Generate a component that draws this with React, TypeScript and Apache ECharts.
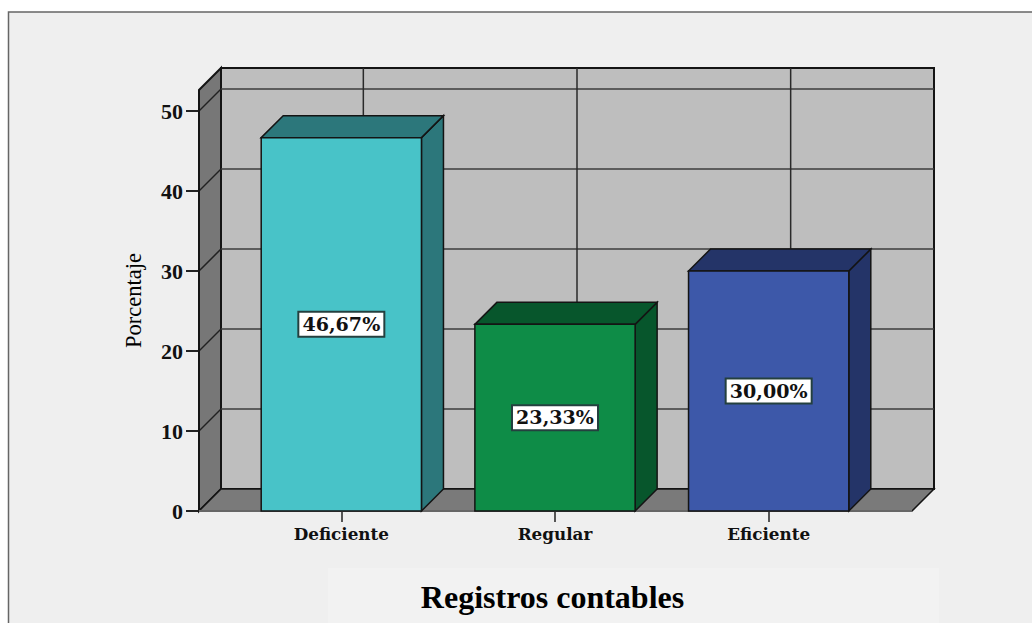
import React, { useEffect, useRef } from "react";
import * as echarts from "echarts";

const categories = ["Deficiente", "Regular", "Eficiente"];
const percentages = [46.67, 23.33, 30.0];
const barLabels = ["46,67%", "23,33%", "30,00%"];
const yTicks = [0, 10, 20, 30, 40, 50];
const yMax = 52.625;

const frontColors = ["#48c3c8", "#0e8c47", "#3d58a9"];
const sideColors = ["#2c777b", "#07562c", "#243468"];

const DEPTH = 22;
const WALL_LEFT_PAD = 35.5;
const WALL_RIGHT_PAD = 36.5;
const EDGE = "#141414";

type Pt = [number, number];

const poly = (points: Pt[], fill: string, stroke: string, lineWidth = 1.5) => ({
  type: "polygon",
  shape: { points },
  style: { fill, stroke, lineWidth, lineJoin: "miter" },
});

const seg = (a: Pt, b: Pt, stroke: string, lineWidth = 1.5) => ({
  type: "line",
  shape: { x1: a[0], y1: a[1], x2: b[0], y2: b[1] },
  style: { stroke, lineWidth },
});

// Back wall, side wall, floor and their rulings, all placed from the axis scales.
function renderRoom(params: any, api: any) {
  const grid = params.coordSys;
  const left = grid.x - WALL_LEFT_PAD;
  const right = grid.x + grid.width + WALL_RIGHT_PAD;
  const top = grid.y;
  const bottom = grid.y + grid.height;
  const d = DEPTH;

  const children: any[] = [
    poly([[left + d, top - d], [right + d, top - d], [right + d, bottom - d], [left + d, bottom - d]], "#bebebe", EDGE, 2),
    poly([[left, top], [left + d, top - d], [left + d, bottom - d], [left, bottom]], "#777777", EDGE, 2),
    poly([[left, bottom], [left + d, bottom - d], [right + d, bottom - d], [right, bottom]], "#7a7a7a", EDGE, 1.5),
  ];

  yTicks.slice(1).forEach((v) => {
    const y = api.coord([0, v])[1];
    children.push(seg([left + d, y - d], [right + d, y - d], "#3c3c3c"));
    children.push(seg([left, y], [left + d, y - d], "#222222"));
  });

  categories.forEach((_, i) => {
    const x = api.coord([i, 0])[0];
    children.push(seg([x + d, top - d], [x + d, bottom - d], "#2a2a2a"));
  });

  children.push(seg([left, top], [left, bottom], EDGE, 2));
  children.push(seg([left, bottom], [right, bottom], "#666666", 2));

  return { type: "group", children };
}

// One prism per category: front face, roof, right side and a boxed value label.
function renderBar(params: any, api: any) {
  const i = api.value(0);
  const value = api.value(1);
  const [cx, yTop] = api.coord([i, value]);
  const yBase = api.coord([i, 0])[1];
  const w = api.size([1, 0])[0] * 0.75;
  const x0 = cx - w / 2;
  const x1 = cx + w / 2;
  const d = DEPTH;
  const midY = (yTop + yBase) / 2;

  return {
    type: "group",
    children: [
      poly([[x1, yTop], [x1 + d, yTop - d], [x1 + d, yBase - d], [x1, yBase]], sideColors[i], EDGE),
      poly([[x0, yTop], [x0 + d, yTop - d], [x1 + d, yTop - d], [x1, yTop]], sideColors[i], EDGE),
      poly([[x0, yTop], [x1, yTop], [x1, yBase], [x0, yBase]], frontColors[i], EDGE),
      {
        type: "rect",
        shape: { x: cx - 43, y: midY - 12.5, width: 86, height: 25 },
        style: { fill: "#ffffff", stroke: "#24403f", lineWidth: 2 },
      },
      {
        type: "text",
        x: cx,
        y: midY + 0.5,
        scaleX: 1.06,
        style: {
          text: barLabels[i],
          fill: "#111111",
          font: 'bold 18px "DejaVu Serif"',
          align: "center",
          verticalAlign: "middle",
        },
      },
    ],
  };
}

export default function App() {
  const ref = useRef<HTMLDivElement>(null);

  useEffect(() => {
    document.body.style.margin = "0";
    document.body.style.background = "#ffffff";
    const chart = echarts.init(ref.current!, undefined, { renderer: "svg" });
    chart.setOption({
      animation: false,
      backgroundColor: "#ffffff",
      title: {
        text: "Registros contables",
        left: 547.5,
        top: 576,
        textAlign: "center",
        textStyle: {
          fontFamily: "Liberation Serif",
          fontWeight: "bold",
          fontSize: 32,
          color: "#000000",
        },
      },
      graphic: [
        {
          type: "rect",
          z: -10,
          shape: { x: 8.5, y: 12, width: 1040, height: 640 },
          style: { fill: "#efefef", stroke: "#666666", lineWidth: 1.5 },
        },
        {
          type: "rect",
          z: -9,
          shape: { x: 328, y: 568, width: 611, height: 55 },
          style: { fill: "#f2f2f2" },
        },
      ],
      grid: { left: 234.5, width: 641, top: 90, height: 421, containLabel: false },
      xAxis: {
        type: "category",
        data: categories,
        axisLine: { show: false },
        axisTick: {
          show: true,
          alignWithLabel: true,
          length: 11,
          lineStyle: { color: "#555555", width: 2 },
        },
        axisLabel: {
          margin: 14,
          fontFamily: "DejaVu Serif",
          fontWeight: "bold",
          fontSize: 16.8,
          color: "#111111",
        },
      },
      yAxis: {
        type: "value",
        min: 0,
        max: yMax,
        offset: WALL_LEFT_PAD,
        name: "Porcentaje",
        nameLocation: "middle",
        nameGap: 54,
        nameRotate: 90,
        nameTextStyle: {
          fontFamily: "Liberation Serif",
          fontSize: 22.5,
          color: "#000000",
        },
        splitLine: { show: false },
        axisLine: { show: false },
        axisTick: {
          show: true,
          length: 13,
          customValues: yTicks,
          lineStyle: { color: "#222222", width: 2 },
        },
        axisLabel: {
          margin: 16,
          padding: [12, 0, 0, 0],
          customValues: yTicks,
          fontFamily: "Liberation Serif",
          fontWeight: "bold",
          fontSize: 22,
          color: "#111111",
        },
      },
      series: [
        {
          type: "custom",
          z: 1,
          silent: true,
          renderItem: renderRoom,
          data: [[0, 0]],
          clip: false,
        },
        {
          type: "custom",
          z: 2,
          silent: true,
          renderItem: renderBar,
          encode: { x: 0, y: 1 },
          data: percentages.map((v, i) => [i, v]),
          clip: false,
        },
      ],
    });
    return () => chart.dispose();
  }, []);

  return <div ref={ref} style={{ width: 1032, height: 623 }} />;
}
